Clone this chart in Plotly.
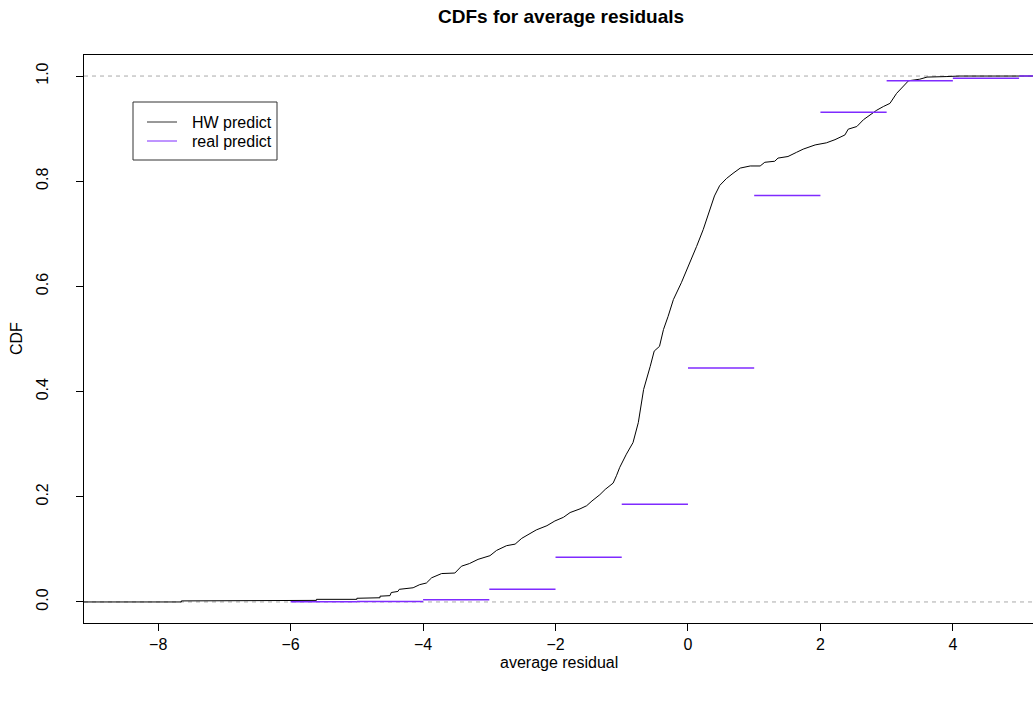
import plotly.graph_objects as go

hw_x = [-9.3, -7.65, -7.65, -7.08, -7.08, -5.61, -5.61, -5.0, -5.0, -4.65, -4.65, -4.5, -4.48,
        -4.38, -4.36, -4.2, -4.15, -4.05, -3.95, -3.87, -3.76, -3.72, -3.52, -3.42, -3.3,
        -3.17, -2.99, -2.89, -2.74, -2.61, -2.51, -2.39, -2.29, -2.13, -2.01, -1.88, -1.78,
        -1.63, -1.53, -1.45, -1.33, -1.25, -1.13, -1.08, -1.03, -0.93, -0.83, -0.75, -0.67,
        -0.57, -0.51, -0.43, -0.37, -0.30, -0.22, -0.10, 0.03, 0.13, 0.23, 0.33, 0.40, 0.48,
        0.58, 0.68, 0.79, 0.94, 1.09, 1.16, 1.31, 1.36, 1.51, 1.64, 1.74, 1.92, 2.09, 2.22, 2.37,
        2.42, 2.55, 2.65, 2.75, 2.85, 2.95, 3.05, 3.15, 3.25, 3.33, 3.50, 3.61, 3.91, 4.1, 5.5]
hw_y = [0.0, 0.0, 0.002, 0.002, 0.003, 0.003, 0.005, 0.005, 0.007, 0.008, 0.011, 0.012, 0.018,
        0.020, 0.024, 0.026, 0.027, 0.033, 0.036, 0.046, 0.052, 0.054, 0.055, 0.068, 0.073,
        0.081, 0.088, 0.098, 0.107, 0.110, 0.121, 0.129, 0.137, 0.145, 0.154, 0.161, 0.170,
        0.177, 0.183, 0.192, 0.204, 0.214, 0.226, 0.240, 0.256, 0.281, 0.303, 0.341, 0.404,
        0.448, 0.477, 0.486, 0.518, 0.543, 0.575, 0.607, 0.645, 0.676, 0.708, 0.746, 0.772, 0.792,
        0.805, 0.815, 0.825, 0.829, 0.829, 0.836, 0.838, 0.844, 0.847, 0.855, 0.861, 0.869,
        0.873, 0.879, 0.888, 0.899, 0.904, 0.917, 0.926, 0.935, 0.942, 0.948, 0.967, 0.981,
        0.991, 0.994, 0.998, 0.999, 1.0, 1.0]

# real predict: CDF per unit bin [start, start+1)
real_start = [-6, -5, -4, -3, -2, -1, 0, 1, 2, 3, 4, 5]
real_cdf = [0.0005, 0.001, 0.004, 0.024, 0.085, 0.186, 0.445, 0.773, 0.931, 0.991, 0.996, 1.0]

x_ticks = [-8, -6, -4, -2, 0, 2, 4]
x_tick_text = ["\u22128", "\u22126", "\u22124", "\u22122", "0", "2", "4"]
y_ticks = [0.0, 0.2, 0.4, 0.6, 0.8, 1.0]
y_tick_text = ["0.0", "0.2", "0.4", "0.6", "0.8", "1.0"]
legend_labels = ["HW predict", "real predict"]

PURPLE = "#7F2BFF"
FONT = "Liberation Sans, Arial, Helvetica, sans-serif"

W, H = 1033, 703
L, R, T, B = 84, 0, 55, 80
pw, ph = W - L - R, H - T - B


def px(x):
    return (x - L) / pw


def py(y):
    return (H - B - y) / ph


rx, ry = [], []
for s, v in zip(real_start, real_cdf):
    rx += [s, s + 1, None]
    ry += [v, v, None]

fig = go.Figure()
fig.add_trace(go.Scatter(x=hw_x, y=hw_y, mode="lines", name=legend_labels[0],
                         line=dict(color="black", width=1)))
fig.add_trace(go.Scatter(x=rx, y=ry, mode="lines", name=legend_labels[1],
                         line=dict(color=PURPLE, width=1.5)))

for yv in (0, 1):
    fig.add_shape(type="line", xref="paper", x0=0, x1=1, yref="y", y0=yv, y1=yv,
                  line=dict(color="#aaaaaa", width=1, dash="4px,4px"), layer="below")

# manual legend box (R style)
fig.add_shape(type="rect", xref="paper", yref="paper", x0=px(133), x1=px(277),
              y0=py(102), y1=py(160), line=dict(color="#333333", width=1),
              fillcolor="white", layer="above")
for i, (lab, col) in enumerate(zip(legend_labels, ["#333333", PURPLE])):
    yy = 122 + 19 * i
    fig.add_shape(type="line", xref="paper", yref="paper", x0=px(147), x1=px(177),
                  y0=py(yy), y1=py(yy), line=dict(color=col, width=1), layer="above")
    fig.add_annotation(text=lab, x=px(190), y=py(yy), xref="paper", yref="paper",
                       showarrow=False, font=dict(size=16), xanchor="left", yanchor="middle")

fig.update_layout(
    width=W, height=H,
    margin=dict(l=L, r=R, t=T, b=B),
    paper_bgcolor="white", plot_bgcolor="white",
    font=dict(family=FONT, size=16, color="black"),
    showlegend=False,
    xaxis=dict(range=[-9.12, 5.21], showgrid=False, zeroline=False,
               showline=True, linecolor="black", linewidth=1, mirror=True,
               ticks="outside", ticklen=7, tickcolor="black",
               tickvals=x_ticks, ticktext=x_tick_text),
    yaxis=dict(range=[-0.04, 1.04], showgrid=False, zeroline=False,
               showline=True, linecolor="black", linewidth=1, mirror=False,
               ticks="outside", ticklen=7, tickcolor="black",
               tickvals=y_ticks, ticktext=y_tick_text, tickangle=-90,
               ticklabelstandoff=22),
)

fig.add_annotation(text="<b>CDFs for average residuals</b>", x=px(561), y=py(17),
                   xref="paper", yref="paper", showarrow=False, font=dict(size=19),
                   xanchor="center", yanchor="middle")
fig.add_annotation(text="average residual", x=px(559), y=py(662), xref="paper", yref="paper",
                   showarrow=False, font=dict(size=16), xanchor="center", yanchor="middle")
fig.add_annotation(text="CDF", x=px(16), y=py(339), xref="paper", yref="paper",
                   showarrow=False, font=dict(size=16), textangle=-90,
                   xanchor="center", yanchor="middle")

fig.write_html("out.html")
